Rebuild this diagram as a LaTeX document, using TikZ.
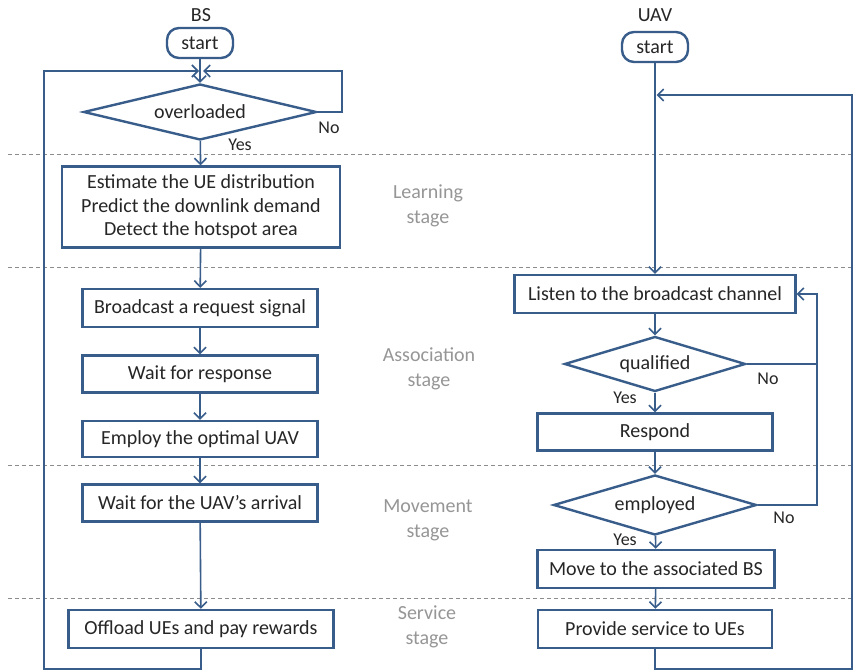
\documentclass[tikz,border=0pt]{standalone}
\usepackage{fontspec}
\setmainfont{Carlito}
\usetikzlibrary{shapes.geometric,arrows.meta}
\definecolor{fb}{RGB}{56,93,138}
\definecolor{stg}{RGB}{150,150,150}
\begin{document}
\begin{tikzpicture}[x=1pt,y=-1pt,
  every node/.style={font=\fontsize{20}{23.5}\selectfont, text=black!85},
  box/.style={draw=fb, line width=2.4pt, fill=white, rectangle, inner sep=0pt, align=center},
  term/.style={draw=fb, line width=2.4pt, fill=white, rectangle, rounded corners=12pt, inner sep=0pt, minimum width=66pt, minimum height=30pt},
  dec/.style={draw=fb, line width=2.4pt, fill=white, diamond, inner sep=0pt, aspect=4},
  arr/.style={draw=fb, line width=1.6pt, -{Straight Barb[length=6pt,width=12pt]}},
  ln/.style={draw=fb, line width=1.6pt},
  stage/.style={text=stg, align=center, font=\fontsize{20}{25}\selectfont},
  yn/.style={font=\fontsize{18}{20}\selectfont},
  sep/.style={draw=black!45, line width=0.8pt, dash pattern=on 4pt off 3pt}]
\useasboundingbox (0,0) rectangle (854,671);
\fill[white] (0,0) rectangle (854,671);
% stage separators
\draw[sep] (8,154) -- (852,154);
\draw[sep] (8,267) -- (852,267);
\draw[sep] (8,465) -- (852,465);
\draw[sep] (8,598) -- (852,598);
% stage labels
\node[stage] (lst) at (428,206) {Learning\\stage};
\node[stage] (ast) at (429,369) {Association\\stage};
\node[stage] (mst) at (428,520) {Movement\\stage};
\node[stage] (sst) at (427,627) {Service\\stage};
% BS column
\node (bslab) at (201,15) {BS};
\node[term] (bsstart) at (200,43) {start};
\node[dec, minimum width=233pt, minimum height=56pt] (ovl) at (200,112) {overloaded};
\node[box, minimum width=278pt, minimum height=81pt] (est) at (201,207) {Estimate the UE distribution\\Predict the downlink demand\\Detect the hotspot area};
\node[box, minimum width=235pt, minimum height=38pt] (bc) at (200,308) {Broadcast a request signal};
\node[box, minimum width=235pt, minimum height=37pt] (wr) at (200,374) {Wait for response};
\node[box, minimum width=235pt, minimum height=36pt] (emp1) at (200,439) {Employ the optimal UAV};
\node[box, minimum width=235pt, minimum height=37pt] (wa) at (200,503) {Wait for the UAV’s arrival};
\node[box, minimum width=265pt, minimum height=38pt] (off) at (201,629) {Offload UEs and pay rewards};
\coordinate (bsjoin) at (201,71);
\draw[arr] (bsstart) -- (ovl);
\draw[arr] (ovl) -- (est);
\draw[arr] (est) -- (bc);
\draw[arr] (bc) -- (wr);
\draw[arr] (wr) -- (emp1);
\draw[arr] (emp1) -- (wa);
\draw[arr] (wa) -- (off);
\draw[arr, shorten >=2pt] (off.south) -- ++(0,20) -| (44,300) |- (bsjoin);
\draw[arr, shorten >=2pt] (ovl.east) -- +(24,0) |- (bsjoin);
\node[yn] (no1) at (329,128) {No};
\node[yn] (yes1) at (240,145) {Yes};
% UAV column
\node (uavlab) at (655,15) {UAV};
\node[term] (ustart) at (655,47) {start};
\node[box, minimum width=281pt, minimum height=38pt] (listen) at (655,294) {Listen to the broadcast channel};
\node[dec, minimum width=181pt, minimum height=55pt] (qual) at (655,364) {qualified};
\node[box, minimum width=235pt, minimum height=37pt] (resp) at (655,432) {Respond};
\node[dec, minimum width=203pt, minimum height=60pt] (empd) at (655,505) {employed};
\node[box, minimum width=237pt, minimum height=38pt] (move) at (656,569) {Move to the associated BS};
\node[box, minimum width=234pt, minimum height=38pt] (prov) at (655,629) {Provide service to UEs};
\coordinate (ujoin) at (655,95);
\coordinate (qj) at (817,364);
\draw[arr] (ustart) -- (listen);
\draw[arr] (listen) -- (qual);
\draw[arr] (qual) -- (resp);
\draw[arr] (resp) -- (empd);
\draw[arr] (empd) -- (move);
\draw[arr] (move) -- (prov);
\draw[arr, shorten >=1.5pt] (prov.south) -- ++(0,20) -| (852,400) |- (ujoin);
\draw[arr] (qual.east) -- (qj) |- (listen.east);
\draw[ln] (empd.east) -| (qj);
\node[yn] (no2) at (768,379) {No};
\node[yn] (yes2) at (625,398) {Yes};
\node[yn] (no3) at (784,518) {No};
\node[yn] (yes3) at (625,540) {Yes};
\end{tikzpicture}
\end{document}
